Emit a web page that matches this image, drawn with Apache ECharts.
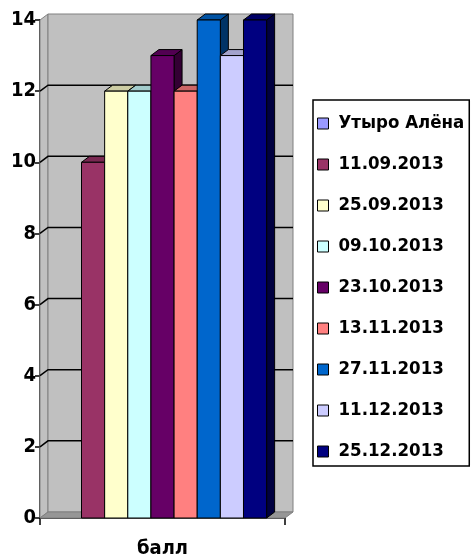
<!DOCTYPE html>
<html>
<head>
<meta charset="utf-8">
<script src="https://cdn.jsdelivr.net/npm/echarts@6/dist/echarts.min.js"></script>
<style>
  html, body { margin: 0; padding: 0; background: #fff; }
  #chart { width: 474px; height: 559px; }
</style>
</head>
<body>
<div id="chart"></div>
<script>
const categories = ["балл"];
const seriesNames = [
  "Утыро Алёна", "11.09.2013", "25.09.2013", "09.10.2013", "23.10.2013",
  "13.11.2013", "27.11.2013", "11.12.2013", "25.12.2013"
];
const seriesValues = [0, 10, 12, 12, 13, 12, 14, 13, 14];
const seriesColors = [
  "#9999FF", "#993366", "#FFFFCC", "#CCFFFF", "#660066",
  "#FF8080", "#0066CC", "#CCCCFF", "#000080"
];
const yTicks = [0, 2, 4, 6, 8, 10, 12, 14];

const FONT = "DejaVu Sans Condensed";
const DX = 8, DY = 6; // 3d depth

function shade(hex, k) {
  const n = parseInt(hex.slice(1), 16);
  const r = Math.round(((n >> 16) & 255) * k);
  const g = Math.round(((n >> 8) & 255) * k);
  const b = Math.round((n & 255) * k);
  return "rgb(" + r + "," + g + "," + b + ")";
}

function renderBar(params, api) {
  const v = api.value(1);
  if (!v) return null;
  const idx = params.seriesIndex;
  const band = api.size([1, 0])[0] * 0.85;
  const bw = band / seriesNames.length;
  const x0 = api.coord([api.value(0), 0])[0] - band / 2 + idx * bw;
  const x1 = x0 + bw;
  const yb = api.coord([api.value(0), 0])[1];
  const yt = api.coord([api.value(0), v])[1];
  const col = seriesColors[idx];
  const line = { stroke: "#000", lineWidth: 1 };
  return {
    type: "group",
    children: [
      { type: "polygon", shape: { points: [[x1, yt], [x1 + DX, yt - DY], [x1 + DX, yb - DY], [x1, yb]] },
        style: Object.assign({ fill: shade(col, 0.5) }, line) },
      { type: "polygon", shape: { points: [[x0, yt], [x0 + DX, yt - DY], [x1 + DX, yt - DY], [x1, yt]] },
        style: Object.assign({ fill: shade(col, 0.8) }, line) },
      { type: "rect", shape: { x: x0, y: yt, width: bw, height: yb - yt },
        style: Object.assign({ fill: col }, line) }
    ]
  };
}

function renderWall(params, api) {
  const cs = params.coordSys;
  const x = cs.x, y = cs.y, w = cs.width, h = cs.height;
  const wallStyle = { fill: "#C0C0C0", stroke: "#808080", lineWidth: 1 };
  const children = [
    { type: "polygon", shape: { points: [[x, y], [x + DX, y - DY], [x + DX, y + h - DY], [x, y + h]] }, style: wallStyle },
    { type: "rect", shape: { x: x + DX, y: y - DY, width: w, height: h }, style: wallStyle },
    { type: "polygon", shape: { points: [[x, y + h], [x + DX, y + h - DY], [x + w + DX, y + h - DY], [x + w, y + h]] },
      style: { fill: "#969696", stroke: "#808080", lineWidth: 1 } }
  ];
  yTicks.forEach(function (t) {
    if (t === 0 || t === yTicks[yTicks.length - 1]) return;
    const yy = api.coord([0, t])[1];
    children.push({ type: "polyline", shape: { points: [[x, yy], [x + DX, yy - DY], [x + w + DX, yy - DY]] },
      style: { stroke: "#000", lineWidth: 1.5, fill: null } });
  });
  return { type: "group", children: children };
}

const chart = echarts.init(document.getElementById("chart"));

const series = seriesNames.map(function (name, i) {
  return {
    name: name,
    type: "custom",
    z: 3,
    itemStyle: { color: seriesColors[i] },
    renderItem: renderBar,
    encode: { x: 0, y: 1 },
    data: [[0, seriesValues[i]]]
  };
});
series.push({
  name: "wall",
  type: "custom",
  z: 1,
  silent: true,
  renderItem: renderWall,
  encode: { x: 0, y: 1 },
  data: [[0, 0]]
});

chart.setOption({
  animation: false,
  grid: { left: 40, right: 189, top: 20, bottom: 39 },
  legend: {
    orient: "vertical",
    left: 313,
    top: 100,
    padding: [14, 5, 5, 4],
    itemGap: 22,
    itemWidth: 11,
    itemHeight: 11,
    icon: "rect",
    borderColor: "#000",
    borderWidth: 1.5,
    data: seriesNames,
    itemStyle: { borderColor: "#000", borderWidth: 1 },
    textStyle: { fontFamily: FONT, fontWeight: "bold", fontSize: 18.5, color: "#000", padding: [0, 0, 0, 5] }
  },
  xAxis: {
    type: "category",
    data: categories,
    axisLine: { lineStyle: { color: "#000", width: 1.5 } },
    axisTick: { show: true, length: 7, lineStyle: { color: "#000", width: 1.5 } },
    axisLabel: { fontFamily: FONT, fontWeight: "bold", fontSize: 20, color: "#000", margin: 21 }
  },
  yAxis: {
    type: "value",
    min: 0,
    max: 14,
    interval: 2,
    splitLine: { show: false },
    axisLine: { show: true, lineStyle: { color: "#000", width: 1.5 } },
    axisTick: { show: true, length: 5, lineStyle: { color: "#000", width: 1.5 } },
    axisLabel: { fontFamily: FONT, fontWeight: "bold", fontSize: 20, color: "#000", margin: 4 }
  },
  series: series
});
</script>
</body>
</html>
